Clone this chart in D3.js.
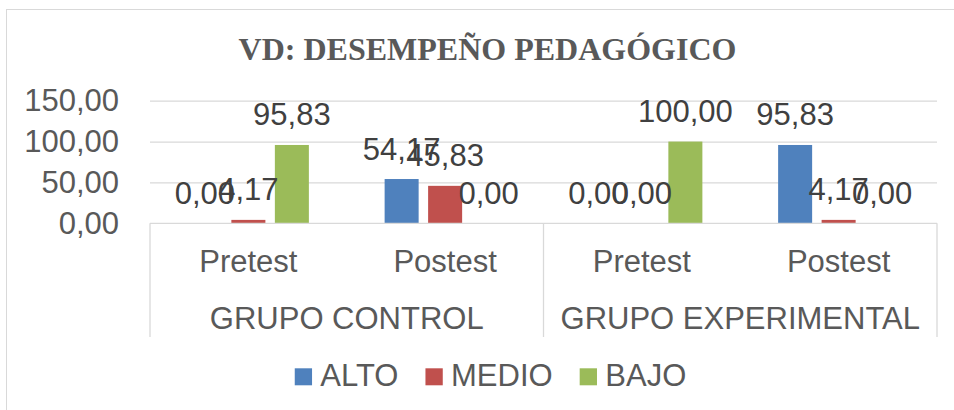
<!DOCTYPE html>
<html>
<head>
<meta charset="utf-8">
<script src="https://cdn.jsdelivr.net/npm/d3@7"></script>
<style>
  body { margin: 0; background: #fff; }
  svg { display: block; }
  text { font-family: "Liberation Sans", Arial, sans-serif; }
</style>
</head>
<body>
<svg id="chart" width="954" height="410"></svg>
<script>
// data
const groups = ["GRUPO CONTROL", "GRUPO EXPERIMENTAL"];
const tests = ["Pretest", "Postest"];
const seriesNames = ["ALTO", "MEDIO", "BAJO"];
const alto = [0.00, 54.17, 0.00, 95.83];
const medio = [4.17, 45.83, 0.00, 4.17];
const bajo = [95.83, 0.00, 100.00, 0.00];
const yTicks = [0, 50, 100, 150];
const colors = ["#4f81bd", "#c0504d", "#9bbb59"];

const seriesValues = [alto, medio, bajo];
// categories: group + test, in order
const categories = [];
groups.forEach(g => tests.forEach(t => categories.push(g + "|" + t)));

const fmt = d3.formatLocale({ decimal: ",", thousands: ".", grouping: [3], currency: ["", ""] }).format(".2f");

const svg = d3.select("#chart");

// outer chart border
svg.append("rect")
    .attr("x", 6.5).attr("y", 9.5)
    .attr("width", 1000).attr("height", 500)
    .style("fill", "none")
    .style("stroke", "#d9d9d9")
    .style("stroke-width", 1);

// title
svg.append("text")
    .attr("x", 487.5).attr("y", 60)
    .attr("text-anchor", "middle")
    .style("font-family", "'Liberation Serif', 'Times New Roman', serif")
    .style("font-weight", "bold")
    .style("font-size", "32px")
    .style("fill", "#595959")
    .text("VD: DESEMPEÑO PEDAGÓGICO");

// plot area
const plotLeft = 150, plotRight = 937, plotTop = 100.7, plotBottom = 223.3;

const y = d3.scaleLinear().domain([0, 150]).range([plotBottom, plotTop]);
const x0 = d3.scaleBand().domain(categories).range([plotLeft, plotRight]);
const bandW = x0.bandwidth();
const inner = bandW * 0.615;
const x1 = d3.scaleBand().domain(seriesNames)
    .range([(bandW - inner) / 2, (bandW + inner) / 2])
    .paddingInner(0.218);
const xg = d3.scaleBand().domain(groups).range([plotLeft, plotRight]);

// gridlines
const grid = svg.append("g")
    .attr("transform", `translate(${plotLeft},0)`)
    .call(d3.axisRight(y).tickValues(yTicks.filter(d => d > 0)).tickSize(plotRight - plotLeft).tickFormat(""));
grid.select(".domain").remove();
grid.selectAll("line").style("stroke", "#d9d9d9").style("stroke-width", 1.3);

// y axis labels
const yAxis = svg.append("g")
    .attr("transform", `translate(${plotLeft},0)`)
    .call(d3.axisLeft(y).tickValues(yTicks).tickSize(0).tickPadding(31).tickFormat(fmt));
yAxis.select(".domain").remove();
yAxis.selectAll("text")
    .style("font-size", "31px")
    .style("font-family", "'Liberation Sans', Arial, sans-serif")
    .style("fill", "#595959");

// bars
const barData = [];
categories.forEach((c, i) => {
    seriesNames.forEach((s, j) => {
        barData.push({ cat: c, series: s, value: seriesValues[j][i], color: colors[j] });
    });
});

svg.append("g").selectAll("rect")
    .data(barData)
    .join("rect")
    .attr("x", d => x0(d.cat) + x1(d.series))
    .attr("y", d => y(d.value))
    .attr("width", x1.bandwidth())
    .attr("height", d => y(0) - y(d.value))
    .style("fill", d => d.color);

// category axis: baseline and box lines
svg.append("line")
    .attr("x1", plotLeft).attr("x2", plotRight)
    .attr("y1", y(0)).attr("y2", y(0))
    .style("stroke", "#d9d9d9").style("stroke-width", 1.3);

const seps = [plotLeft].concat(groups.map(g => xg(g) + xg.bandwidth()));
svg.append("g").selectAll("line")
    .data(seps)
    .join("line")
    .attr("x1", d => d).attr("x2", d => d)
    .attr("y1", y(0)).attr("y2", 337)
    .style("stroke", "#d9d9d9").style("stroke-width", 1.3);

// data labels
svg.append("g").selectAll("text")
    .data(barData)
    .join("text")
    .attr("x", d => x0(d.cat) + x1(d.series) + x1.bandwidth() / 2)
    .attr("y", d => y(d.value) - 19.5)
    .attr("text-anchor", "middle")
    .style("font-size", "31px")
    .style("fill", "#404040")
    .text(d => fmt(d.value));

// test labels
svg.append("g").selectAll("text")
    .data(categories)
    .join("text")
    .attr("x", d => x0(d) + bandW / 2)
    .attr("y", 272.3)
    .attr("text-anchor", "middle")
    .style("font-size", "31px")
    .style("fill", "#595959")
    .text(d => d.split("|")[1]);

// group labels
svg.append("g").selectAll("text")
    .data(groups)
    .join("text")
    .attr("x", d => xg(d) + xg.bandwidth() / 2)
    .attr("y", 329.3)
    .attr("text-anchor", "middle")
    .style("font-size", "31px")
    .style("fill", "#595959")
    .text(d => d);

// legend
const legend = svg.append("g");
const items = legend.selectAll("g")
    .data(seriesNames)
    .join("g");
items.append("rect")
    .attr("width", 17.3).attr("height", 17)
    .attr("y", 368.3)
    .style("fill", (d, i) => colors[i]);
items.append("text")
    .attr("x", 25.6)
    .attr("y", 386)
    .style("font-size", "31px")
    .style("fill", "#595959")
    .text(d => d);

let cx = 0;
const offsets = [];
items.each(function () {
    offsets.push(cx);
    const w = d3.select(this).select("text").node().getComputedTextLength();
    cx += 25.6 + w + 27;
});
const total = cx - 27;
const startX = 490.5 - total / 2;
items.attr("transform", (d, i) => `translate(${startX + offsets[i]},0)`);
</script>
</body>
</html>
